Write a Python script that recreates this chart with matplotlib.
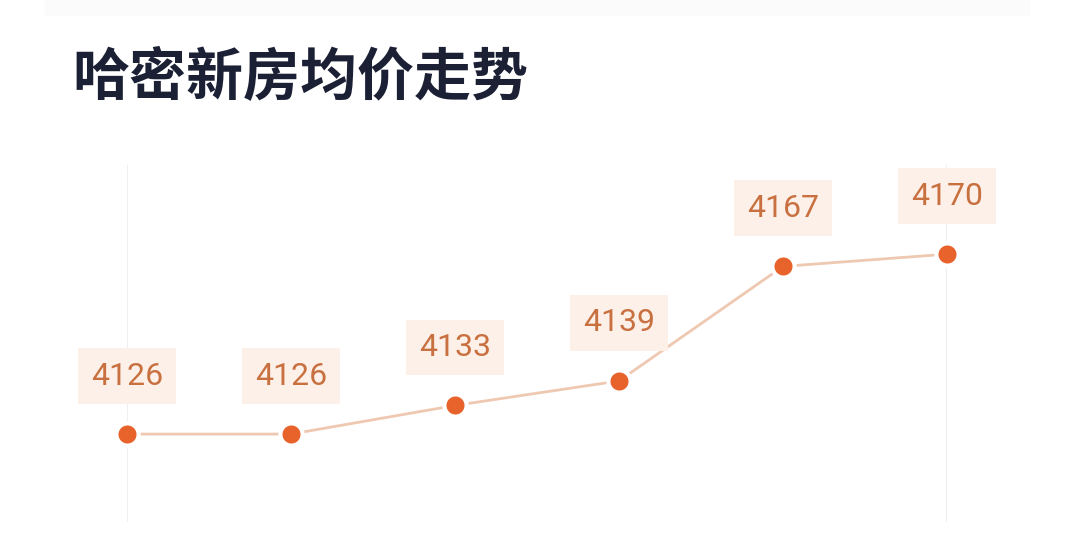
import matplotlib
matplotlib.use("Agg")
import matplotlib.pyplot as plt
from matplotlib.patches import Rectangle

# Data
periods = [0, 1, 2, 3, 4, 5]
prices = [4126, 4126, 4133, 4139, 4167, 4170]
title = "哈密新房均价走势"

W, H = 1080, 556
fig = plt.figure(figsize=(W / 100, H / 100), dpi=100)
fig.patch.set_facecolor("white")

# faint top band
fig.patches.append(Rectangle((45 / W, 1 - 16 / H), (1030 - 45) / W, 16 / H,
                             transform=fig.transFigure, facecolor="#fbfbfb",
                             edgecolor="none", zorder=0))

fig.text(72 / W, 1 - 78 / H, title, fontsize=41, fontweight="bold",
         color="#1b2035", family=["Noto Sans CJK SC", "DejaVu Sans"],
         va="center", ha="left")

ax = fig.add_axes([127 / W, 34 / H, (947 - 127) / W, (522 - 165) / H])
ax.set_xlim(0, 5)
ax.set_ylim(4104.5, 4191.8)
ax.axis("off")

for xv in (periods[0], periods[-1]):
    ax.axvline(xv, color="#efefef", lw=1.5, zorder=0)

ax.plot(periods, prices, color="#efc8b2", lw=2, zorder=2, clip_on=False)
ax.plot(periods, prices, "o", ms=16, mfc="#e8622c", mec="white", mew=3,
        zorder=3, clip_on=False)

for x, y in zip(periods, prices):
    ax.annotate(str(y), (x, y), xytext=(0, 58), textcoords="offset pixels",
                ha="center", va="center", fontsize=23, color="#c8703f",
                family=["Roboto", "DejaVu Sans"],
                bbox=dict(boxstyle="square,pad=0.42", facecolor="#fdf0e8",
                          edgecolor="none"),
                annotation_clip=False, zorder=4)

fig.savefig("out.png", dpi=100, facecolor="white")
